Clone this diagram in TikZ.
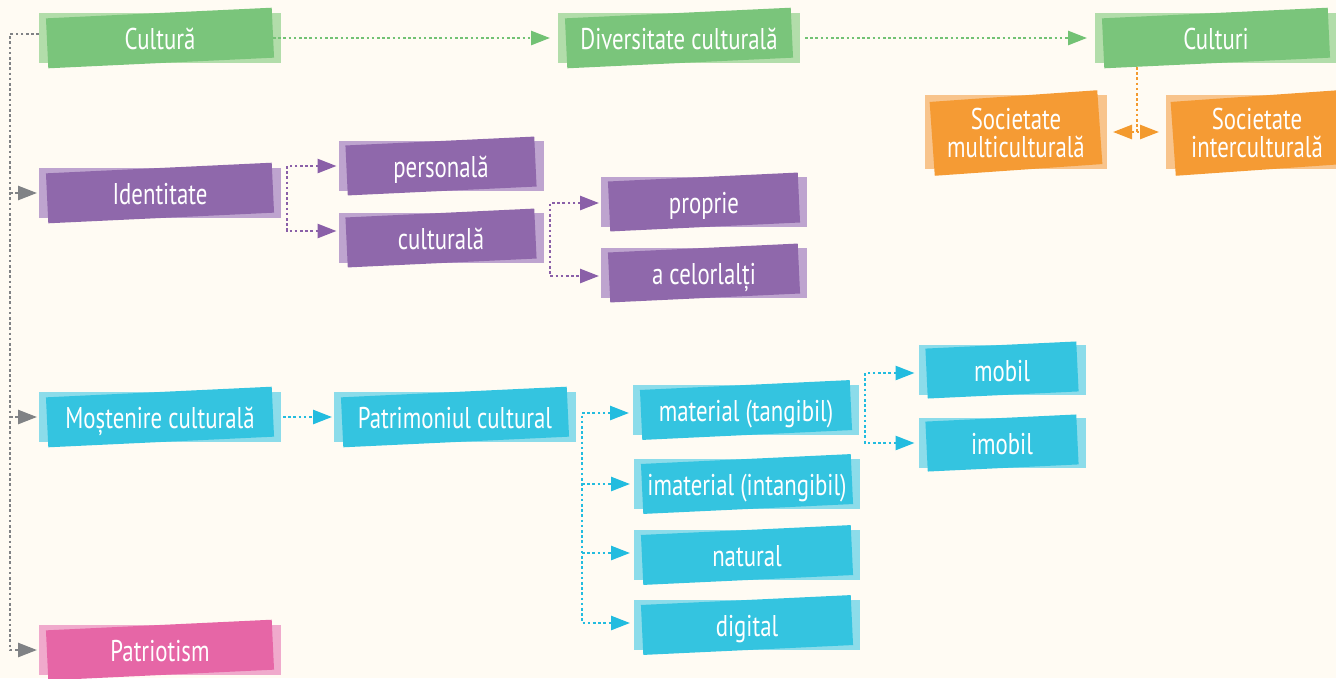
\documentclass[tikz,border=0pt]{standalone}
\usepackage{fontspec}
\setmainfont{PT Sans}[FakeStretch=0.76]
\usetikzlibrary{arrows.meta}
\definecolor{bgc}{HTML}{FFFBF3}
\definecolor{gL}{HTML}{B2DDAA}\definecolor{gD}{HTML}{7AC57B}\definecolor{gA}{HTML}{72C274}
\definecolor{pL}{HTML}{BEA4CF}\definecolor{pD}{HTML}{8F68AB}\definecolor{pA}{HTML}{8A5FA8}
\definecolor{cL}{HTML}{8CDCEA}\definecolor{cD}{HTML}{34C4E0}\definecolor{cA}{HTML}{22BCDF}
\definecolor{oL}{HTML}{F8C48C}\definecolor{oD}{HTML}{F59B34}\definecolor{oA}{HTML}{F39A2E}
\definecolor{kL}{HTML}{F0AACC}\definecolor{kD}{HTML}{E666A6}
\definecolor{grA}{HTML}{808285}
\tikzset{
  lightbox/.style={inner sep=0pt, outer sep=0pt},
  darkbox/.style={inner sep=0pt, outer sep=0pt},
  txt/.style={inner sep=0pt, outer sep=0pt, text=white, font=\fontsize{30}{28}\selectfont, align=center, text height=22pt, text depth=0pt},
  conn/.style={line width=2.6pt, dash pattern=on 2.6pt off 2.6pt, >={Triangle[length=19pt,width=14pt]}, ->, shorten >=3pt},
  dconn/.style={conn, <->, shorten <=3pt},
}
% #1 name, #2 centre, #3 width, #4 height, #5 colour prefix, #6 angle, #7 text
\newcommand{\cbox}[7]{%
  \node[lightbox, fill=#5L, minimum width=#3pt, minimum height=#4pt] (#1-l) at (#2) {};
  \node[darkbox, fill=#5D, rotate=#6, minimum width=#3pt-16pt, minimum height=#4pt] (#1-d) at (#2) {};
  \node[txt, minimum width=#3pt, minimum height=#4pt] (#1) at (#2) {#7};
}
\begin{document}
\begin{tikzpicture}[x=1pt, y=-1pt]
\fill[bgc] (0,0) rectangle (1336,678);
\useasboundingbox (0,0) rectangle (1336,678);

\cbox{cultura}{160,38}{242}{50}{g}{2.7}{Cultură}
\cbox{diversitate}{679,38}{242}{50}{g}{2.7}{Diversitate culturală}
\cbox{culturi}{1216,38}{242}{50}{g}{2.7}{Culturi}
\node[lightbox, fill=oL, minimum width=182pt, minimum height=74pt] (multi-l) at (1016,132) {};
\node[darkbox, fill=oD, rotate=4, minimum width=168pt, minimum height=74pt] (multi-d) at (1016,133) {};
\node[txt, text height=50pt, text depth=0pt, minimum width=182pt, minimum height=74pt] (multi) at (1016,132) {Societate\\multiculturală};
\node[lightbox, fill=oL, minimum width=182pt, minimum height=74pt] (inter-l) at (1257,132) {};
\node[darkbox, fill=oD, rotate=4, minimum width=168pt, minimum height=74pt] (inter-d) at (1257,133) {};
\node[txt, text height=50pt, text depth=0pt, minimum width=182pt, minimum height=74pt] (inter) at (1257,132) {Societate\\interculturală};

\cbox{identitate}{160,193}{242}{50}{p}{2.7}{Identitate}
\cbox{personala}{441,166}{205}{50}{p}{2.7}{personală}
\cbox{culturala}{441,238}{205}{50}{p}{2.7}{culturală}
\cbox{proprie}{704,202}{206}{50}{p}{2.7}{proprie}
\cbox{altii}{704,273}{206}{50}{p}{2.7}{a celorlalți}

\cbox{mostenire}{160,417}{242}{50}{c}{2.7}{Moștenire culturală}
\cbox{patrimoniul}{455,417}{242}{50}{c}{2.7}{Patrimoniul cultural}
\cbox{material}{746,410}{226}{50}{c}{2.7}{material (tangibil)}
\cbox{imaterial}{747,484}{226}{50}{c}{2.7}{imaterial (intangibil)}
\cbox{natural}{747,555}{226}{50}{c}{2.7}{natural}
\cbox{digital}{747,625}{226}{50}{c}{2.7}{digital}
\cbox{mobil}{1002,370}{167}{50}{c}{2.7}{mobil}
\cbox{imobil}{1002,443}{167}{50}{c}{2.7}{imobil}

\cbox{patriotism}{160,650}{242}{50}{k}{2.7}{Patriotism}

% grey connectors
\coordinate (g0) at (10,34);
\draw[conn, grA, shorten >=2pt] ([yshift=4pt]cultura.west) -- (g0) -- (g0 |- patriotism.west) -- (patriotism.west);
\draw[conn, grA, shorten >=2pt] (g0 |- identitate.west) -- (identitate.west);
\draw[conn, grA, shorten >=2pt] (g0 |- mostenire.west) -- (mostenire.west);

% green connectors
\draw[conn, gA, shorten >=8pt, shorten <=-8pt] (cultura.east) -- (diversitate.west);
\draw[conn, gA, shorten >=8pt, shorten <=5pt] (diversitate.east) -- (culturi.west);

% orange connectors
\coordinate (oc) at (1137,133);
\draw[line width=2.6pt, dash pattern=on 2.6pt off 2.6pt, oA] ([yshift=-4pt]culturi.south -| oc) -- (oc);
\draw[dconn, oA, shorten >=7pt, shorten <=6pt] (multi.east) -- (inter.west);

% purple connectors
\coordinate (ib) at (287,193);
\draw[dconn, pA, shorten <=2pt, shorten >=2pt] (personala.west) -| (ib) |- ([yshift=7pt]culturala.west);
\coordinate (cb) at (550,240);
\draw[dconn, pA, shorten <=2pt, shorten >=2pt] ([yshift=-1pt]proprie.west) -| (cb) |- ([yshift=-3pt]altii.west);

% cyan connectors
\draw[conn, cA, shorten >=2pt, shorten <=2pt] (mostenire.east) -- (patrimoniul.west);
\coordinate (pb) at (582,500);
\draw[dconn, cA, shorten <=4pt, shorten >=4pt] ([yshift=-3pt]material.west) -| (pb) |- ([yshift=2pt]digital.west);
\draw[conn, cA, shorten >=4pt] (pb |- imaterial.west) -- (imaterial.west);
\draw[conn, cA, shorten >=4pt] ([yshift=2pt]pb |- natural.west) -- ([yshift=2pt]natural.west);
\coordinate (mb) at (865,410);
\draw[dconn, cA, shorten <=4pt, shorten >=4pt] ([yshift=-3pt]mobil.west) -| (mb) |- (imobil.west);
\end{tikzpicture}
\end{document}
